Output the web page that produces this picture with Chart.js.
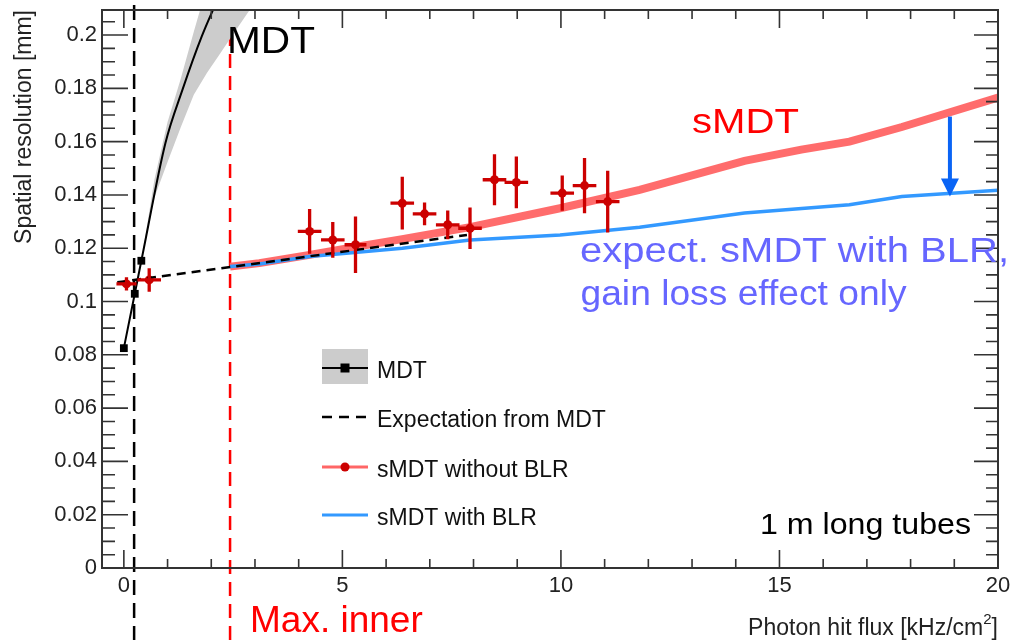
<!DOCTYPE html>
<html>
<head>
<meta charset="utf-8">
<script src="https://cdn.jsdelivr.net/npm/chart.js@4.4.1/dist/chart.umd.min.js"></script>
<style>
  html, body { margin: 0; padding: 0; background: #fff; }
  #wrap { width: 1012px; height: 640px; position: relative; }
</style>
</head>
<body>
<div id="wrap"><canvas id="resChart"></canvas></div>
<script>
const FONT = '"Liberation Sans", Arial, Helvetica, sans-serif';

// MDT measurements and the fitted curve going on from the last one
const mdtFlux = [0, 0.25, 0.4];
const mdtRes = [0.0825, 0.1029, 0.1153];
const mdtFitFlux = [0.4, 0.95, 1.34, 1.78, 2.3];
const mdtFitRes = [0.1153, 0.1594, 0.1794, 0.1994, 0.219];

// grey uncertainty band of the MDT fit
const bandFlux = [0.4, 0.7, 1.0, 1.3, 1.6, 1.9, 2.2, 2.6, 3.0];
const bandHigh = [0.1153, 0.1458, 0.1674, 0.1835, 0.2012, 0.2183, 0.235, 0.255, 0.275];
const bandLow = [0.1153, 0.139, 0.1524, 0.1653, 0.1776, 0.1858, 0.193, 0.2027, 0.2123];

// expectation extrapolated from MDT
const expFlux = [-0.15, 7.85];
const expRes = [0.1072, 0.125];

// sMDT measurements without BLR
const smdtFlux = [0.06, 0.58, 4.25, 4.78, 5.30, 6.37, 6.88, 7.41, 7.92, 8.48, 8.98, 10.03, 10.54, 11.07];
const smdtRes = [0.1066, 0.1081, 0.1263, 0.1231, 0.1213, 0.1369, 0.1329, 0.1288, 0.1275, 0.1457, 0.1447, 0.1407, 0.1435, 0.1375];
const smdtFluxErr = [0.23, 0.27, 0.27, 0.27, 0.25, 0.27, 0.27, 0.27, 0.27, 0.27, 0.27, 0.27, 0.27, 0.27];
const smdtResErr = [0.0025, 0.0044, 0.0084, 0.0067, 0.0106, 0.0099, 0.0043, 0.0054, 0.0078, 0.0096, 0.0097, 0.0066, 0.0104, 0.0116];

// sMDT expectation curves
const noBlrFlux = [2.43, 3.1, 4.25, 5.3, 6.37, 7.92, 9.98, 11.8, 14.2, 15.5, 16.6, 17.8, 20];
const noBlrRes = [0.1131, 0.1144, 0.1175, 0.1205, 0.1234, 0.1279, 0.135, 0.1419, 0.1528, 0.157, 0.16, 0.1655, 0.1765];
const blrFlux = [2.43, 3.1, 4.25, 6.37, 7.92, 9.98, 11.8, 14.2, 16.6, 17.8, 20];
const blrRes = [0.1131, 0.1141, 0.1169, 0.120, 0.1231, 0.125, 0.1279, 0.1332, 0.1363, 0.1394, 0.1418];

// reference flux values marked with vertical lines
const mdtLimitFlux = 0.235;
const maxInnerFlux = 2.43;

const xTickValues = [0, 5, 10, 15, 20];
const yTickValues = [0, 0.02, 0.04, 0.06, 0.08, 0.1, 0.12, 0.14, 0.16, 0.18, 0.2];
const yTickLabels = ['0', '0.02', '0.04', '0.06', '0.08', '0.1', '0.12', '0.14', '0.16', '0.18', '0.2'];

const arrow = { x: 18.9, from: 0.1694, to: 0.1394 };

const notes = [
    { text: 'MDT', x: 227, y: 53, size: 37, width: 88, color: '#000' },
    { text: 'sMDT', x: 692, y: 133, size: 35, width: 107, color: '#ff0000' },
    { text: 'expect. sMDT with BLR,', x: 580, y: 262, size: 35, width: 429, color: '#6666ff' },
    { text: 'gain loss effect only', x: 580.5, y: 305, size: 35, width: 326, color: '#6666ff' },
    { text: '1 m long tubes', x: 760, y: 534, size: 29, width: 211, color: '#000' },
    { text: 'Max. inner', x: 250, y: 632, size: 37, width: 0, color: '#ff0000' }
];

function pts(xs, ys) {
    return xs.map((v, i) => ({ x: v, y: ys[i] }));
}

function drawText(ctx, str, x, y, size, width, color) {
    ctx.save();
    ctx.font = size + 'px ' + FONT;
    const sx = width ? width / ctx.measureText(str).width : 1;
    ctx.translate(x, y);
    ctx.scale(sx, 1);
    ctx.fillStyle = color;
    ctx.textAlign = 'left';
    ctx.textBaseline = 'alphabetic';
    ctx.fillText(str, 0, 0);
    ctx.restore();
}

// frame with inward ticks on all four sides
function drawFrame(chart) {
    const { ctx, chartArea: a, scales: { x, y } } = chart;
    ctx.save();
    ctx.strokeStyle = '#333';
    ctx.lineWidth = 1.6;
    ctx.beginPath();
    for (let i = Math.ceil(x.min); i <= x.max; i++) {
        const p = x.getPixelForValue(i);
        const len = i % 5 === 0 ? 18 : 9;
        ctx.moveTo(p, a.bottom);
        ctx.lineTo(p, a.bottom - len);
        ctx.moveTo(p, a.top);
        ctx.lineTo(p, a.top + len);
    }
    for (let i = 0; i * 0.005 <= y.max; i++) {
        const p = y.getPixelForValue(i * 0.005);
        const major = i % 4 === 0;
        ctx.moveTo(a.left, p);
        ctx.lineTo(a.left + (major ? 26 : 13), p);
        ctx.moveTo(a.right, p);
        ctx.lineTo(a.right - (major ? 24 : 12), p);
    }
    ctx.stroke();
    ctx.lineWidth = 2;
    ctx.strokeRect(a.left, a.top, a.right - a.left, a.bottom - a.top);
    ctx.restore();
}

function drawErrorBars(chart) {
    const { ctx, scales: { x, y } } = chart;
    ctx.save();
    ctx.strokeStyle = '#cc0000';
    ctx.lineWidth = 3.3;
    ctx.beginPath();
    smdtFlux.forEach((f, i) => {
        const r = smdtRes[i];
        ctx.moveTo(x.getPixelForValue(f - smdtFluxErr[i]), y.getPixelForValue(r));
        ctx.lineTo(x.getPixelForValue(f + smdtFluxErr[i]), y.getPixelForValue(r));
        ctx.moveTo(x.getPixelForValue(f), y.getPixelForValue(r - smdtResErr[i]));
        ctx.lineTo(x.getPixelForValue(f), y.getPixelForValue(r + smdtResErr[i]));
    });
    ctx.stroke();
    ctx.restore();
}

function drawArrow(chart) {
    const { ctx, scales: { x, y } } = chart;
    const px = x.getPixelForValue(arrow.x);
    const y0 = y.getPixelForValue(arrow.from);
    const y1 = y.getPixelForValue(arrow.to);
    ctx.save();
    ctx.strokeStyle = ctx.fillStyle = '#0a64f5';
    ctx.lineWidth = 4;
    ctx.beginPath();
    ctx.moveTo(px, y0);
    ctx.lineTo(px, y1 - 14);
    ctx.stroke();
    ctx.beginPath();
    ctx.moveTo(px - 9, y1 - 18);
    ctx.lineTo(px + 9, y1 - 18);
    ctx.lineTo(px, y1);
    ctx.closePath();
    ctx.fill();
    ctx.restore();
}

function drawLegend(ctx) {
    ctx.save();
    const x0 = 322, x1 = 368, xm = 345;
    ctx.fillStyle = '#cccccc';
    ctx.fillRect(x0, 349, x1 - x0, 35);
    ctx.strokeStyle = '#000';
    ctx.lineWidth = 2;
    ctx.beginPath();
    ctx.moveTo(x0, 368);
    ctx.lineTo(x1, 368);
    ctx.stroke();
    ctx.fillStyle = '#000';
    ctx.fillRect(xm - 4.5, 368 - 4.5, 9, 9);

    ctx.setLineDash([10, 7]);
    ctx.lineWidth = 2.5;
    ctx.beginPath();
    ctx.moveTo(x0, 417);
    ctx.lineTo(x1, 417);
    ctx.stroke();
    ctx.setLineDash([]);

    ctx.strokeStyle = '#ff6666';
    ctx.lineWidth = 3;
    ctx.beginPath();
    ctx.moveTo(x0, 467);
    ctx.lineTo(x1, 467);
    ctx.stroke();
    ctx.fillStyle = '#cc0000';
    ctx.beginPath();
    ctx.arc(xm, 467, 4.5, 0, Math.PI * 2);
    ctx.fill();

    ctx.strokeStyle = '#3399ff';
    ctx.beginPath();
    ctx.moveTo(x0, 515);
    ctx.lineTo(x1, 515);
    ctx.stroke();
    ctx.restore();

    drawText(ctx, 'MDT', 377, 378, 23, 0, '#111');
    drawText(ctx, 'Expectation from MDT', 377, 427, 23, 0, '#111');
    drawText(ctx, 'sMDT without BLR', 377, 477, 23, 0, '#111');
    drawText(ctx, 'sMDT with BLR', 377, 525, 23, 0, '#111');
}

function drawTitles(ctx) {
    ctx.save();
    ctx.fillStyle = '#222';
    ctx.textBaseline = 'alphabetic';
    // x title, right aligned, with raised exponent
    const big = '23px ' + FONT, small = '15px ' + FONT;
    const head = 'Photon hit flux [kHz/cm';
    const tail = ']';
    ctx.font = big;
    const wTail = ctx.measureText(tail).width;
    const wHead = ctx.measureText(head).width;
    ctx.font = small;
    const wSup = ctx.measureText('2').width;
    const xr = 998;
    ctx.font = big;
    ctx.fillText(tail, xr - wTail, 635);
    ctx.fillText(head, xr - wTail - wSup - wHead, 635);
    ctx.font = small;
    ctx.fillText('2', xr - wTail - wSup, 624);

    // y title, rotated, reaching down from the top of the frame
    ctx.font = big;
    ctx.translate(31, 10);
    ctx.rotate(-Math.PI / 2);
    ctx.textAlign = 'right';
    ctx.fillText('Spatial resolution [mm]', 0, 0);
    ctx.restore();
}

const decor = {
    id: 'decor',
    beforeDatasetsDraw(chart) {
        const { ctx, chartArea: a, scales: { x } } = chart;
        ctx.save();
        ctx.lineWidth = 2.5;
        ctx.setLineDash([15, 8]);
        ctx.strokeStyle = '#000';
        ctx.beginPath();
        ctx.moveTo(x.getPixelForValue(mdtLimitFlux), a.top - 5);
        ctx.lineTo(x.getPixelForValue(mdtLimitFlux), chart.height);
        ctx.stroke();
        ctx.strokeStyle = '#ff0000';
        ctx.setLineDash([14, 8]);
        ctx.beginPath();
        ctx.moveTo(x.getPixelForValue(maxInnerFlux), a.top);
        ctx.lineTo(x.getPixelForValue(maxInnerFlux), chart.height);
        ctx.stroke();
        ctx.restore();
    },
    afterDatasetsDraw(chart) {
        drawErrorBars(chart);
        drawArrow(chart);
        drawFrame(chart);
    },
    afterDraw(chart) {
        const ctx = chart.ctx;
        notes.forEach(n => drawText(ctx, n.text, n.x, n.y, n.size, n.width, n.color));
        drawLegend(ctx);
        drawTitles(ctx);
    }
};

const chart = new Chart(document.getElementById('resChart'), {
    type: 'line',
    data: {
        datasets: [
            {
                label: 'MDT',
                data: pts(mdtFlux, mdtRes),
                borderColor: '#000',
                borderWidth: 2,
                pointStyle: 'rect',
                pointRadius: 5.5,
                pointBackgroundColor: '#000',
                pointBorderWidth: 0,
                order: 1
            },
            {
                label: 'MDT fit',
                data: pts(mdtFitFlux, mdtFitRes),
                borderColor: '#000',
                borderWidth: 2,
                pointRadius: 0,
                cubicInterpolationMode: 'monotone',
                order: 2
            },
            {
                label: 'MDT band high',
                data: pts(bandFlux, bandHigh),
                borderWidth: 0,
                pointRadius: 0,
                backgroundColor: '#cccccc',
                fill: '+1',
                order: 10
            },
            {
                label: 'MDT band low',
                data: pts(bandFlux, bandLow),
                borderWidth: 0,
                pointRadius: 0,
                fill: false,
                order: 11
            },
            {
                label: 'Expectation from MDT',
                data: pts(expFlux, expRes),
                borderColor: '#000',
                borderWidth: 2.5,
                borderDash: [9, 6],
                pointRadius: 0,
                order: 3
            },
            {
                label: 'sMDT without BLR',
                data: pts(smdtFlux, smdtRes),
                showLine: false,
                pointRadius: 4.5,
                pointBackgroundColor: '#cc0000',
                pointBorderWidth: 0,
                order: 4
            },
            {
                label: 'sMDT without BLR curve',
                data: pts(noBlrFlux, noBlrRes),
                borderColor: 'rgba(255, 95, 95, 0.92)',
                borderWidth: 8,
                pointRadius: 0,
                order: 6
            },
            {
                label: 'sMDT with BLR',
                data: pts(blrFlux, blrRes),
                borderColor: '#3399ff',
                borderWidth: 3.5,
                pointRadius: 0,
                order: 5
            }
        ]
    },
    options: {
        responsive: true,
        maintainAspectRatio: false,
        animation: false,
        events: [],
        layout: { padding: { top: 10, right: 14, left: 0, bottom: 0 } },
        plugins: {
            legend: { display: false },
            tooltip: { enabled: false }
        },
        scales: {
            x: {
                type: 'linear',
                min: -0.5,
                max: 20,
                grid: { display: false, drawTicks: false },
                border: { display: false },
                ticks: {
                    autoSkip: false,
                    maxRotation: 0,
                    padding: 5,
                    color: '#222',
                    font: { family: FONT, size: 22 },
                    callback: v => String(v)
                },
                afterBuildTicks: s => { s.ticks = xTickValues.map(v => ({ value: v })); },
                afterFit: s => {
                    s.height = 72;
                    s.paddingLeft = 0;
                    s.paddingRight = 0;
                }
            },
            y: {
                type: 'linear',
                min: 0,
                max: 0.2094,
                grid: { display: false, drawTicks: false },
                border: { display: false },
                ticks: {
                    autoSkip: false,
                    padding: 5,
                    color: '#222',
                    font: { family: FONT, size: 22 },
                    callback: (v, i) => yTickLabels[i]
                },
                afterBuildTicks: s => { s.ticks = yTickValues.map(v => ({ value: v })); },
                afterFit: s => {
                    s.width = 102;
                    s.paddingTop = 0;
                    s.paddingBottom = 0;
                }
            }
        }
    },
    plugins: [decor]
});
</script>
</body>
</html>
